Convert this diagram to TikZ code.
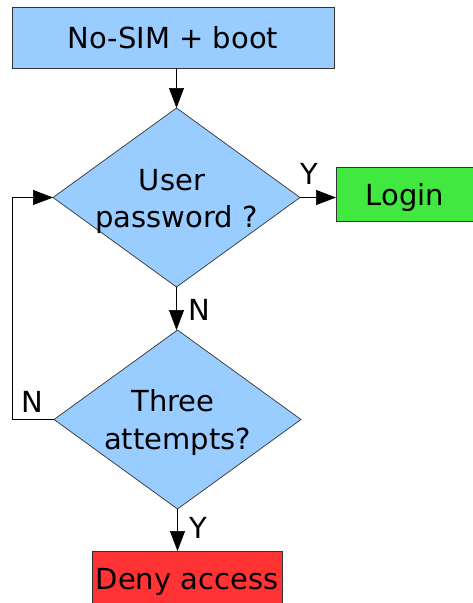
\documentclass[tikz,border=0pt]{standalone}
\usepackage{fontspec}
\setmainfont{DejaVu Sans}
\usetikzlibrary{shapes.geometric,arrows.meta}
\definecolor{lblue}{HTML}{99CCFF}
\definecolor{lgreen}{HTML}{40E840}
\definecolor{lred}{HTML}{FF3333}
\definecolor{bord}{HTML}{333333}
\begin{document}
\begin{tikzpicture}[x=1pt,y=-1pt,
  txt/.style={font=\fontsize{29}{37.7}\selectfont, inner sep=0pt, outer sep=0pt},
  boxnode/.style={draw=bord, line width=0.8pt, inner sep=0pt, outer sep=0pt, text depth=0pt},
  dia/.style={diamond, draw=bord, line width=0.7pt, fill=lblue, inner sep=0pt, outer sep=0pt,
     minimum width=247pt, minimum height=179pt},
  conn/.style={line width=0.7pt, -{Triangle[length=20pt,width=15pt]}},
  lbl/.style={font=\fontsize{29}{34}\selectfont, inner sep=0pt}]
\useasboundingbox (0,0) rectangle (472,603);
\node[boxnode, txt, fill=lblue, minimum width=322pt, minimum height=60.5pt] (top) at (173,37.75) {No-SIM + boot};
\node[dia] (d1) at (176.5,197.5) {};
\node[txt, align=center] (d1t) at (176.5,201.3) {User\hphantom{\ }\\password ?};
\node[boxnode, txt, fill=lgreen, minimum width=138pt, minimum height=54pt] (login) at (405,194) {Login};
\node[dia] (d2) at (177.5,419.5) {};
\node[txt, align=center] (d2t) at (177.5,422.3) {Three\hphantom{\ }\\attempts?};
\node[boxnode, txt, fill=lred, minimum width=190pt, minimum height=55.8pt] (deny) at (187,578.9) {Deny access};
\draw[conn] (top.south -| d1.north) -- (d1.north);
\draw[conn] (d1.east) -- (d1.east -| login.west);
\draw[conn] (d1.south) -- (d1.south |- d2.north);
\draw[conn] (d2.south) -- (d2.south |- deny.north);
\coordinate (lp) at (12,419.5);
\draw[conn] (d2.west) -- (lp) |- (d1.west);
\node[lbl] (ly1) at (309.5,174) {Y};
\node[lbl] (ln1) at (199,310) {N};
\node[lbl] (ln2) at (32.5,401.5) {N};
\node[lbl] (ly2) at (198.5,528) {Y};
\end{tikzpicture}
\end{document}
